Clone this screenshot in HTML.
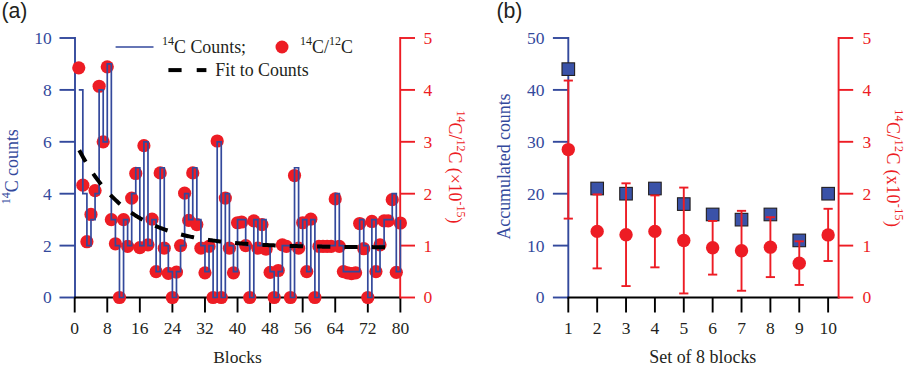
<!DOCTYPE html>
<html><head><meta charset="utf-8"><title>Figure</title>
<style>html,body{margin:0;padding:0;background:#fff}svg{display:block}</style></head>
<body><svg width="905" height="368" viewBox="0 0 905 368">
<rect width="905" height="368" fill="#fff"/>
<line x1="75.00" y1="37.05" x2="75.00" y2="298.45" stroke="#33499C" stroke-width="1.9" />
<line x1="59.50" y1="297.50" x2="75.00" y2="297.50" stroke="#33499C" stroke-width="1.9" />
<text x="51.80" y="303.40" fill="#33499C" font-size="17.5" font-family='"Liberation Serif", "Times New Roman", serif' text-anchor="end" >0</text>
<line x1="59.50" y1="245.60" x2="75.00" y2="245.60" stroke="#33499C" stroke-width="1.9" />
<text x="51.80" y="251.50" fill="#33499C" font-size="17.5" font-family='"Liberation Serif", "Times New Roman", serif' text-anchor="end" >2</text>
<line x1="59.50" y1="193.70" x2="75.00" y2="193.70" stroke="#33499C" stroke-width="1.9" />
<text x="51.80" y="199.60" fill="#33499C" font-size="17.5" font-family='"Liberation Serif", "Times New Roman", serif' text-anchor="end" >4</text>
<line x1="59.50" y1="141.80" x2="75.00" y2="141.80" stroke="#33499C" stroke-width="1.9" />
<text x="51.80" y="147.70" fill="#33499C" font-size="17.5" font-family='"Liberation Serif", "Times New Roman", serif' text-anchor="end" >6</text>
<line x1="59.50" y1="89.90" x2="75.00" y2="89.90" stroke="#33499C" stroke-width="1.9" />
<text x="51.80" y="95.80" fill="#33499C" font-size="17.5" font-family='"Liberation Serif", "Times New Roman", serif' text-anchor="end" >8</text>
<line x1="59.50" y1="38.00" x2="75.00" y2="38.00" stroke="#33499C" stroke-width="1.9" />
<text x="51.80" y="43.90" fill="#33499C" font-size="17.5" font-family='"Liberation Serif", "Times New Roman", serif' text-anchor="end" >10</text>
<line x1="74.20" y1="297.50" x2="401.00" y2="297.50" stroke="#000" stroke-width="1.9" />
<line x1="74.70" y1="297.50" x2="74.70" y2="312.50" stroke="#000" stroke-width="1.9" />
<text x="74.70" y="334.30" fill="#231F20" font-size="17.5" font-family='"Liberation Serif", "Times New Roman", serif' text-anchor="middle" >0</text>
<line x1="107.27" y1="297.50" x2="107.27" y2="312.50" stroke="#000" stroke-width="1.9" />
<text x="107.27" y="334.30" fill="#231F20" font-size="17.5" font-family='"Liberation Serif", "Times New Roman", serif' text-anchor="middle" >8</text>
<line x1="139.84" y1="297.50" x2="139.84" y2="312.50" stroke="#000" stroke-width="1.9" />
<text x="139.84" y="334.30" fill="#231F20" font-size="17.5" font-family='"Liberation Serif", "Times New Roman", serif' text-anchor="middle" >16</text>
<line x1="172.40" y1="297.50" x2="172.40" y2="312.50" stroke="#000" stroke-width="1.9" />
<text x="172.40" y="334.30" fill="#231F20" font-size="17.5" font-family='"Liberation Serif", "Times New Roman", serif' text-anchor="middle" >24</text>
<line x1="204.97" y1="297.50" x2="204.97" y2="312.50" stroke="#000" stroke-width="1.9" />
<text x="204.97" y="334.30" fill="#231F20" font-size="17.5" font-family='"Liberation Serif", "Times New Roman", serif' text-anchor="middle" >32</text>
<line x1="237.54" y1="297.50" x2="237.54" y2="312.50" stroke="#000" stroke-width="1.9" />
<text x="237.54" y="334.30" fill="#231F20" font-size="17.5" font-family='"Liberation Serif", "Times New Roman", serif' text-anchor="middle" >40</text>
<line x1="270.11" y1="297.50" x2="270.11" y2="312.50" stroke="#000" stroke-width="1.9" />
<text x="270.11" y="334.30" fill="#231F20" font-size="17.5" font-family='"Liberation Serif", "Times New Roman", serif' text-anchor="middle" >48</text>
<line x1="302.68" y1="297.50" x2="302.68" y2="312.50" stroke="#000" stroke-width="1.9" />
<text x="302.68" y="334.30" fill="#231F20" font-size="17.5" font-family='"Liberation Serif", "Times New Roman", serif' text-anchor="middle" >56</text>
<line x1="335.24" y1="297.50" x2="335.24" y2="312.50" stroke="#000" stroke-width="1.9" />
<text x="335.24" y="334.30" fill="#231F20" font-size="17.5" font-family='"Liberation Serif", "Times New Roman", serif' text-anchor="middle" >64</text>
<line x1="367.81" y1="297.50" x2="367.81" y2="312.50" stroke="#000" stroke-width="1.9" />
<text x="367.81" y="334.30" fill="#231F20" font-size="17.5" font-family='"Liberation Serif", "Times New Roman", serif' text-anchor="middle" >72</text>
<line x1="400.38" y1="297.50" x2="400.38" y2="312.50" stroke="#000" stroke-width="1.9" />
<text x="400.38" y="334.30" fill="#231F20" font-size="17.5" font-family='"Liberation Serif", "Times New Roman", serif' text-anchor="middle" >80</text>
<line x1="400.20" y1="37.05" x2="400.20" y2="298.45" stroke="#ED1C24" stroke-width="1.9" />
<line x1="400.20" y1="297.50" x2="415.00" y2="297.50" stroke="#ED1C24" stroke-width="1.9" />
<text x="423.50" y="303.40" fill="#ED1C24" font-size="17.5" font-family='"Liberation Serif", "Times New Roman", serif' text-anchor="start" >0</text>
<line x1="400.20" y1="245.60" x2="415.00" y2="245.60" stroke="#ED1C24" stroke-width="1.9" />
<text x="423.50" y="251.50" fill="#ED1C24" font-size="17.5" font-family='"Liberation Serif", "Times New Roman", serif' text-anchor="start" >1</text>
<line x1="400.20" y1="193.70" x2="415.00" y2="193.70" stroke="#ED1C24" stroke-width="1.9" />
<text x="423.50" y="199.60" fill="#ED1C24" font-size="17.5" font-family='"Liberation Serif", "Times New Roman", serif' text-anchor="start" >2</text>
<line x1="400.20" y1="141.80" x2="415.00" y2="141.80" stroke="#ED1C24" stroke-width="1.9" />
<text x="423.50" y="147.70" fill="#ED1C24" font-size="17.5" font-family='"Liberation Serif", "Times New Roman", serif' text-anchor="start" >3</text>
<line x1="400.20" y1="89.90" x2="415.00" y2="89.90" stroke="#ED1C24" stroke-width="1.9" />
<text x="423.50" y="95.80" fill="#ED1C24" font-size="17.5" font-family='"Liberation Serif", "Times New Roman", serif' text-anchor="start" >4</text>
<line x1="400.20" y1="38.00" x2="415.00" y2="38.00" stroke="#ED1C24" stroke-width="1.9" />
<text x="423.50" y="43.90" fill="#ED1C24" font-size="17.5" font-family='"Liberation Serif", "Times New Roman", serif' text-anchor="start" >5</text>
<circle cx="78.77" cy="67.84" r="6.6" fill="#ED1C24"/>
<circle cx="82.84" cy="185.14" r="6.6" fill="#ED1C24"/>
<circle cx="86.91" cy="241.71" r="6.6" fill="#ED1C24"/>
<circle cx="90.98" cy="214.46" r="6.6" fill="#ED1C24"/>
<circle cx="95.06" cy="190.59" r="6.6" fill="#ED1C24"/>
<circle cx="99.13" cy="86.27" r="6.6" fill="#ED1C24"/>
<circle cx="103.20" cy="141.80" r="6.6" fill="#ED1C24"/>
<circle cx="107.27" cy="66.80" r="6.6" fill="#ED1C24"/>
<circle cx="111.34" cy="219.65" r="6.6" fill="#ED1C24"/>
<circle cx="115.41" cy="243.78" r="6.6" fill="#ED1C24"/>
<circle cx="119.48" cy="297.50" r="6.6" fill="#ED1C24"/>
<circle cx="123.55" cy="219.65" r="6.6" fill="#ED1C24"/>
<circle cx="127.62" cy="246.38" r="6.6" fill="#ED1C24"/>
<circle cx="131.69" cy="198.11" r="6.6" fill="#ED1C24"/>
<circle cx="135.76" cy="173.46" r="6.6" fill="#ED1C24"/>
<circle cx="139.84" cy="247.68" r="6.6" fill="#ED1C24"/>
<circle cx="143.91" cy="145.69" r="6.6" fill="#ED1C24"/>
<circle cx="147.98" cy="244.82" r="6.6" fill="#ED1C24"/>
<circle cx="152.05" cy="219.13" r="6.6" fill="#ED1C24"/>
<circle cx="156.12" cy="271.55" r="6.6" fill="#ED1C24"/>
<circle cx="160.19" cy="172.94" r="6.6" fill="#ED1C24"/>
<circle cx="164.26" cy="248.19" r="6.6" fill="#ED1C24"/>
<circle cx="168.33" cy="273.37" r="6.6" fill="#ED1C24"/>
<circle cx="172.40" cy="297.50" r="6.6" fill="#ED1C24"/>
<circle cx="176.47" cy="272.07" r="6.6" fill="#ED1C24"/>
<circle cx="180.55" cy="245.60" r="6.6" fill="#ED1C24"/>
<circle cx="184.62" cy="193.18" r="6.6" fill="#ED1C24"/>
<circle cx="188.69" cy="220.43" r="6.6" fill="#ED1C24"/>
<circle cx="192.76" cy="172.94" r="6.6" fill="#ED1C24"/>
<circle cx="196.83" cy="224.58" r="6.6" fill="#ED1C24"/>
<circle cx="200.90" cy="248.19" r="6.6" fill="#ED1C24"/>
<circle cx="204.97" cy="272.85" r="6.6" fill="#ED1C24"/>
<circle cx="209.04" cy="246.38" r="6.6" fill="#ED1C24"/>
<circle cx="213.11" cy="297.50" r="6.6" fill="#ED1C24"/>
<circle cx="217.19" cy="141.02" r="6.6" fill="#ED1C24"/>
<circle cx="221.26" cy="297.50" r="6.6" fill="#ED1C24"/>
<circle cx="225.33" cy="198.11" r="6.6" fill="#ED1C24"/>
<circle cx="229.40" cy="248.19" r="6.6" fill="#ED1C24"/>
<circle cx="233.47" cy="272.85" r="6.6" fill="#ED1C24"/>
<circle cx="237.54" cy="222.76" r="6.6" fill="#ED1C24"/>
<circle cx="241.61" cy="221.99" r="6.6" fill="#ED1C24"/>
<circle cx="245.68" cy="245.60" r="6.6" fill="#ED1C24"/>
<circle cx="249.75" cy="297.50" r="6.6" fill="#ED1C24"/>
<circle cx="253.82" cy="220.95" r="6.6" fill="#ED1C24"/>
<circle cx="257.89" cy="248.19" r="6.6" fill="#ED1C24"/>
<circle cx="261.97" cy="224.58" r="6.6" fill="#ED1C24"/>
<circle cx="266.04" cy="249.23" r="6.6" fill="#ED1C24"/>
<circle cx="270.11" cy="272.33" r="6.6" fill="#ED1C24"/>
<circle cx="274.18" cy="297.50" r="6.6" fill="#ED1C24"/>
<circle cx="278.25" cy="270.51" r="6.6" fill="#ED1C24"/>
<circle cx="282.32" cy="244.82" r="6.6" fill="#ED1C24"/>
<circle cx="286.39" cy="246.38" r="6.6" fill="#ED1C24"/>
<circle cx="290.46" cy="297.50" r="6.6" fill="#ED1C24"/>
<circle cx="294.53" cy="175.53" r="6.6" fill="#ED1C24"/>
<circle cx="298.60" cy="248.19" r="6.6" fill="#ED1C24"/>
<circle cx="302.68" cy="222.76" r="6.6" fill="#ED1C24"/>
<circle cx="306.75" cy="271.55" r="6.6" fill="#ED1C24"/>
<circle cx="310.82" cy="219.13" r="6.6" fill="#ED1C24"/>
<circle cx="314.89" cy="297.50" r="6.6" fill="#ED1C24"/>
<circle cx="318.96" cy="246.38" r="6.6" fill="#ED1C24"/>
<circle cx="323.03" cy="246.38" r="6.6" fill="#ED1C24"/>
<circle cx="327.10" cy="246.38" r="6.6" fill="#ED1C24"/>
<circle cx="331.17" cy="246.38" r="6.6" fill="#ED1C24"/>
<circle cx="335.24" cy="198.89" r="6.6" fill="#ED1C24"/>
<circle cx="339.31" cy="246.38" r="6.6" fill="#ED1C24"/>
<circle cx="343.39" cy="271.55" r="6.6" fill="#ED1C24"/>
<circle cx="347.46" cy="272.85" r="6.6" fill="#ED1C24"/>
<circle cx="351.53" cy="273.63" r="6.6" fill="#ED1C24"/>
<circle cx="355.60" cy="272.85" r="6.6" fill="#ED1C24"/>
<circle cx="359.67" cy="223.54" r="6.6" fill="#ED1C24"/>
<circle cx="363.74" cy="248.71" r="6.6" fill="#ED1C24"/>
<circle cx="367.81" cy="297.50" r="6.6" fill="#ED1C24"/>
<circle cx="371.88" cy="221.47" r="6.6" fill="#ED1C24"/>
<circle cx="375.95" cy="271.55" r="6.6" fill="#ED1C24"/>
<circle cx="380.02" cy="244.82" r="6.6" fill="#ED1C24"/>
<circle cx="384.10" cy="220.95" r="6.6" fill="#ED1C24"/>
<circle cx="388.17" cy="220.95" r="6.6" fill="#ED1C24"/>
<circle cx="392.24" cy="199.67" r="6.6" fill="#ED1C24"/>
<circle cx="396.31" cy="272.33" r="6.6" fill="#ED1C24"/>
<circle cx="400.38" cy="223.02" r="6.6" fill="#ED1C24"/>
<path d="M78.77,89.90 L82.84,89.90 L82.84,193.70 L86.91,193.70 L86.91,245.60 L90.98,245.60 L90.98,219.65 L95.06,219.65 L95.06,193.70 L99.13,193.70 L99.13,89.90 L103.20,89.90 L103.20,141.80 L107.27,141.80 L107.27,63.95 L111.34,63.95 L111.34,219.65 L115.41,219.65 L115.41,245.60 L119.48,245.60 L119.48,297.50 L123.55,297.50 L123.55,219.65 L127.62,219.65 L127.62,245.60 L131.69,245.60 L131.69,193.70 L135.76,193.70 L135.76,167.75 L139.84,167.75 L139.84,245.60 L143.91,245.60 L143.91,141.80 L147.98,141.80 L147.98,245.60 L152.05,245.60 L152.05,219.65 L156.12,219.65 L156.12,271.55 L160.19,271.55 L160.19,167.75 L164.26,167.75 L164.26,245.60 L168.33,245.60 L168.33,271.55 L172.40,271.55 L172.40,297.50 L176.47,297.50 L176.47,271.55 L180.55,271.55 L180.55,245.60 L184.62,245.60 L184.62,193.70 L188.69,193.70 L188.69,219.65 L192.76,219.65 L192.76,167.75 L196.83,167.75 L196.83,219.65 L200.90,219.65 L200.90,245.60 L204.97,245.60 L204.97,271.55 L209.04,271.55 L209.04,245.60 L213.11,245.60 L213.11,297.50 L217.19,297.50 L217.19,141.80 L221.26,141.80 L221.26,297.50 L225.33,297.50 L225.33,193.70 L229.40,193.70 L229.40,245.60 L233.47,245.60 L233.47,271.55 L237.54,271.55 L237.54,219.65 L241.61,219.65 L241.61,219.65 L245.68,219.65 L245.68,245.60 L249.75,245.60 L249.75,297.50 L253.82,297.50 L253.82,219.65 L257.89,219.65 L257.89,245.60 L261.97,245.60 L261.97,219.65 L266.04,219.65 L266.04,245.60 L270.11,245.60 L270.11,271.55 L274.18,271.55 L274.18,297.50 L278.25,297.50 L278.25,271.55 L282.32,271.55 L282.32,245.60 L286.39,245.60 L286.39,245.60 L290.46,245.60 L290.46,297.50 L294.53,297.50 L294.53,167.75 L298.60,167.75 L298.60,245.60 L302.68,245.60 L302.68,219.65 L306.75,219.65 L306.75,271.55 L310.82,271.55 L310.82,219.65 L314.89,219.65 L314.89,297.50 L318.96,297.50 L318.96,245.60 L323.03,245.60 L323.03,245.60 L327.10,245.60 L327.10,245.60 L331.17,245.60 L331.17,245.60 L335.24,245.60 L335.24,193.70 L339.31,193.70 L339.31,245.60 L343.39,245.60 L343.39,271.55 L347.46,271.55 L347.46,271.55 L351.53,271.55 L351.53,271.55 L355.60,271.55 L355.60,271.55 L359.67,271.55 L359.67,219.65 L363.74,219.65 L363.74,245.60 L367.81,245.60 L367.81,297.50 L371.88,297.50 L371.88,219.65 L375.95,219.65 L375.95,271.55 L380.02,271.55 L380.02,245.60 L384.10,245.60 L384.10,219.65 L388.17,219.65 L388.17,219.65 L392.24,219.65 L392.24,193.70 L396.31,193.70 L396.31,271.55 L400.38,271.55 L400.38,219.65 L400.38,219.65" fill="none" stroke="#33499C" stroke-width="1.7" stroke-linejoin="miter"/>
<path d="M79.26,150.21 L80.28,152.15 L81.30,154.05 L82.31,155.92 L83.33,157.74 L84.35,159.53 L85.37,161.29 L86.38,163.00 L87.40,164.69 L88.42,166.34 L89.44,167.96 L90.45,169.54 L91.47,171.10 L92.49,172.62 L93.51,174.12 L94.53,175.58 L95.54,177.01 L96.56,178.42 L97.58,179.79 L98.60,181.14 L99.61,182.47 L100.63,183.76 L101.65,185.03 L102.67,186.28 L103.69,187.50 L104.70,188.70 L105.72,189.87 L106.74,191.02 L107.76,192.14 L108.77,193.24 L109.79,194.33 L110.81,195.39 L111.83,196.42 L112.85,197.44 L113.86,198.44 L114.88,199.42 L115.90,200.38 L116.92,201.31 L117.93,202.23 L118.95,203.14 L119.97,204.02 L120.99,204.89 L122.01,205.73 L123.02,206.57 L124.04,207.38 L125.06,208.18 L126.08,208.96 L127.09,209.73 L128.11,210.48 L129.13,211.22 L130.15,211.94 L131.16,212.65 L132.18,213.35 L133.20,214.03 L134.22,214.69 L135.24,215.35 L136.25,215.99 L137.27,216.61 L138.29,217.23 L139.31,217.83 L140.32,218.42 L141.34,219.00 L142.36,219.57 L143.38,220.12 L144.40,220.67 L145.41,221.20 L146.43,221.72 L147.45,222.24 L148.47,222.74 L149.48,223.23 L150.50,223.71 L151.52,224.19 L152.54,224.65 L153.56,225.11 L154.57,225.55 L155.59,225.99 L156.61,226.42 L157.63,226.83 L158.64,227.25 L159.66,227.65 L160.68,228.04 L161.70,228.43 L162.72,228.81 L163.73,229.18 L164.75,229.54 L165.77,229.90 L166.79,230.25 L167.80,230.59 L168.82,230.93 L169.84,231.26 L170.86,231.58 L171.87,231.90 L172.89,232.21 L173.91,232.51 L174.93,232.81 L175.95,233.10 L176.96,233.38 L177.98,233.66 L179.00,233.94 L180.02,234.21 L181.03,234.47 L182.05,234.73 L183.07,234.98 L184.09,235.23 L185.11,235.47 L186.12,235.71 L187.14,235.95 L188.16,236.18 L189.18,236.40 L190.19,236.62 L191.21,236.84 L192.23,237.05 L193.25,237.25 L194.27,237.46 L195.28,237.65 L196.30,237.85 L197.32,238.04 L198.34,238.23 L199.35,238.41 L200.37,238.59 L201.39,238.77 L202.41,238.94 L203.43,239.11 L204.44,239.27 L205.46,239.44 L206.48,239.60 L207.50,239.75 L208.51,239.91 L209.53,240.06 L210.55,240.20 L211.57,240.35 L212.58,240.49 L213.60,240.63 L214.62,240.76 L215.64,240.89 L216.66,241.02 L217.67,241.15 L218.69,241.28 L219.71,241.40 L220.73,241.52 L221.74,241.64 L222.76,241.75 L223.78,241.87 L224.80,241.98 L225.82,242.09 L226.83,242.19 L227.85,242.30 L228.87,242.40 L229.89,242.50 L230.90,242.60 L231.92,242.69 L232.94,242.79 L233.96,242.88 L234.98,242.97 L235.99,243.06 L237.01,243.15 L238.03,243.23 L239.05,243.31 L240.06,243.40 L241.08,243.48 L242.10,243.56 L243.12,243.63 L244.14,243.71 L245.15,243.78 L246.17,243.85 L247.19,243.93 L248.21,244.00 L249.22,244.06 L250.24,244.13 L251.26,244.20 L252.28,244.26 L253.29,244.32 L254.31,244.38 L255.33,244.45 L256.35,244.50 L257.37,244.56 L258.38,244.62 L259.40,244.68 L260.42,244.73 L261.44,244.78 L262.45,244.84 L263.47,244.89 L264.49,244.94 L265.51,244.99 L266.53,245.04 L267.54,245.08 L268.56,245.13 L269.58,245.18 L270.60,245.22 L271.61,245.26 L272.63,245.31 L273.65,245.35 L274.67,245.39 L275.69,245.43 L276.70,245.47 L277.72,245.51 L278.74,245.55 L279.76,245.59 L280.77,245.62 L281.79,245.66 L282.81,245.69 L283.83,245.73 L284.85,245.76 L285.86,245.79 L286.88,245.83 L287.90,245.86 L288.92,245.89 L289.93,245.92 L290.95,245.95 L291.97,245.98 L292.99,246.01 L294.00,246.04 L295.02,246.06 L296.04,246.09 L297.06,246.12 L298.08,246.14 L299.09,246.17 L300.11,246.19 L301.13,246.22 L302.15,246.24 L303.16,246.26 L304.18,246.29 L305.20,246.31 L306.22,246.33 L307.24,246.35 L308.25,246.38 L309.27,246.40 L310.29,246.42 L311.31,246.44 L312.32,246.46 L313.34,246.47 L314.36,246.49 L315.38,246.51 L316.40,246.53 L317.41,246.55 L318.43,246.57 L319.45,246.58 L320.47,246.60 L321.48,246.62 L322.50,246.63 L323.52,246.65 L324.54,246.66 L325.56,246.68 L326.57,246.69 L327.59,246.71 L328.61,246.72 L329.63,246.73 L330.64,246.75 L331.66,246.76 L332.68,246.77 L333.70,246.79 L334.71,246.80 L335.73,246.81 L336.75,246.82 L337.77,246.84 L338.79,246.85 L339.80,246.86 L340.82,246.87 L341.84,246.88 L342.86,246.89 L343.87,246.90 L344.89,246.91 L345.91,246.92 L346.93,246.93 L347.95,246.94 L348.96,246.95 L349.98,246.96 L351.00,246.97 L352.02,246.98 L353.03,246.99 L354.05,247.00 L355.07,247.00 L356.09,247.01 L357.11,247.02 L358.12,247.03 L359.14,247.04 L360.16,247.04 L361.18,247.05 L362.19,247.06 L363.21,247.07 L364.23,247.07 L365.25,247.08 L366.27,247.09 L367.28,247.09 L368.30,247.10 L369.32,247.11 L370.34,247.11 L371.35,247.12 L372.37,247.12 L373.39,247.13 L374.41,247.14 L375.42,247.14 L376.44,247.15 L377.46,247.15 L378.48,247.16 L379.50,247.16 L380.51,247.17 L381.53,247.17 L382.55,247.18 L383.57,247.18 L384.58,247.19 L385.60,247.19 L386.62,247.20 L387.64,247.20" fill="none" stroke="#000" stroke-width="4" stroke-dasharray="13.3 14.06"/>
<line x1="115.60" y1="47.00" x2="153.50" y2="47.00" stroke="#33499C" stroke-width="1.7" />
<text x="162.00" y="52.80" fill="#231F20" font-size="17.9" font-family='"Liberation Serif", "Times New Roman", serif' text-anchor="start" ><tspan font-size="12" dy="-8.3">14</tspan><tspan dy="8.3">C Counts;</tspan></text>
<circle cx="282" cy="47" r="6.5" fill="#ED1C24"/>
<text x="300.00" y="52.80" fill="#231F20" font-size="17.9" font-family='"Liberation Serif", "Times New Roman", serif' text-anchor="start" ><tspan font-size="12" dy="-8.3">14</tspan><tspan dy="8.3">C/</tspan><tspan font-size="12" dy="-8.3">12</tspan><tspan dy="8.3">C</tspan></text>
<line x1="168.40" y1="70.10" x2="181.60" y2="70.10" stroke="#000" stroke-width="4" />
<line x1="196.70" y1="70.10" x2="206.40" y2="70.10" stroke="#000" stroke-width="4" />
<text x="215.30" y="75.60" fill="#231F20" font-size="17.9" font-family='"Liberation Serif", "Times New Roman", serif' text-anchor="start" >Fit to Counts</text>
<text x="1.40" y="18.20" fill="#231F20" font-size="21.3" font-family='"Liberation Sans", Arial, sans-serif' text-anchor="start" >(a)</text>
<text x="237.50" y="363.20" fill="#231F20" font-size="17.5" font-family='"Liberation Serif", "Times New Roman", serif' text-anchor="middle" >Blocks</text>
<g transform="translate(17.8,204.3) rotate(-90)">
<text x="0.00" y="0.00" fill="#33499C" font-size="17.9" font-family='"Liberation Serif", "Times New Roman", serif' text-anchor="start" ><tspan font-size="12" dy="-8.3">14</tspan><tspan dy="8.3">C counts</tspan></text>
</g>
<g transform="translate(449,110.6) rotate(90)">
<text x="0.00" y="0.00" fill="#ED1C24" font-size="17.8" font-family='"Liberation Serif", "Times New Roman", serif' text-anchor="start" ><tspan font-size="12" dy="-8.3">14</tspan><tspan dy="8.3">C/</tspan><tspan font-size="12" dy="-8.3">12</tspan><tspan dy="8.3">C (&#215;10</tspan><tspan font-size="12" dy="-8.3">-15</tspan><tspan dy="8.3">)</tspan></text>
</g>
<line x1="568.30" y1="37.05" x2="568.30" y2="298.45" stroke="#33499C" stroke-width="1.9" />
<line x1="552.90" y1="297.50" x2="568.30" y2="297.50" stroke="#33499C" stroke-width="1.9" />
<text x="544.60" y="303.40" fill="#33499C" font-size="17.5" font-family='"Liberation Serif", "Times New Roman", serif' text-anchor="end" >0</text>
<line x1="552.90" y1="245.60" x2="568.30" y2="245.60" stroke="#33499C" stroke-width="1.9" />
<text x="544.60" y="251.50" fill="#33499C" font-size="17.5" font-family='"Liberation Serif", "Times New Roman", serif' text-anchor="end" >10</text>
<line x1="552.90" y1="193.70" x2="568.30" y2="193.70" stroke="#33499C" stroke-width="1.9" />
<text x="544.60" y="199.60" fill="#33499C" font-size="17.5" font-family='"Liberation Serif", "Times New Roman", serif' text-anchor="end" >20</text>
<line x1="552.90" y1="141.80" x2="568.30" y2="141.80" stroke="#33499C" stroke-width="1.9" />
<text x="544.60" y="147.70" fill="#33499C" font-size="17.5" font-family='"Liberation Serif", "Times New Roman", serif' text-anchor="end" >30</text>
<line x1="552.90" y1="89.90" x2="568.30" y2="89.90" stroke="#33499C" stroke-width="1.9" />
<text x="544.60" y="95.80" fill="#33499C" font-size="17.5" font-family='"Liberation Serif", "Times New Roman", serif' text-anchor="end" >40</text>
<line x1="552.90" y1="38.00" x2="568.30" y2="38.00" stroke="#33499C" stroke-width="1.9" />
<text x="544.60" y="43.90" fill="#33499C" font-size="17.5" font-family='"Liberation Serif", "Times New Roman", serif' text-anchor="end" >50</text>
<line x1="567.50" y1="297.50" x2="839.40" y2="297.50" stroke="#000" stroke-width="1.9" />
<line x1="568.30" y1="297.50" x2="568.30" y2="312.50" stroke="#000" stroke-width="1.9" />
<text x="568.30" y="334.30" fill="#231F20" font-size="17.5" font-family='"Liberation Serif", "Times New Roman", serif' text-anchor="middle" >1</text>
<line x1="597.17" y1="297.50" x2="597.17" y2="312.50" stroke="#000" stroke-width="1.9" />
<text x="597.17" y="334.30" fill="#231F20" font-size="17.5" font-family='"Liberation Serif", "Times New Roman", serif' text-anchor="middle" >2</text>
<line x1="626.04" y1="297.50" x2="626.04" y2="312.50" stroke="#000" stroke-width="1.9" />
<text x="626.04" y="334.30" fill="#231F20" font-size="17.5" font-family='"Liberation Serif", "Times New Roman", serif' text-anchor="middle" >3</text>
<line x1="654.91" y1="297.50" x2="654.91" y2="312.50" stroke="#000" stroke-width="1.9" />
<text x="654.91" y="334.30" fill="#231F20" font-size="17.5" font-family='"Liberation Serif", "Times New Roman", serif' text-anchor="middle" >4</text>
<line x1="683.78" y1="297.50" x2="683.78" y2="312.50" stroke="#000" stroke-width="1.9" />
<text x="683.78" y="334.30" fill="#231F20" font-size="17.5" font-family='"Liberation Serif", "Times New Roman", serif' text-anchor="middle" >5</text>
<line x1="712.65" y1="297.50" x2="712.65" y2="312.50" stroke="#000" stroke-width="1.9" />
<text x="712.65" y="334.30" fill="#231F20" font-size="17.5" font-family='"Liberation Serif", "Times New Roman", serif' text-anchor="middle" >6</text>
<line x1="741.52" y1="297.50" x2="741.52" y2="312.50" stroke="#000" stroke-width="1.9" />
<text x="741.52" y="334.30" fill="#231F20" font-size="17.5" font-family='"Liberation Serif", "Times New Roman", serif' text-anchor="middle" >7</text>
<line x1="770.39" y1="297.50" x2="770.39" y2="312.50" stroke="#000" stroke-width="1.9" />
<text x="770.39" y="334.30" fill="#231F20" font-size="17.5" font-family='"Liberation Serif", "Times New Roman", serif' text-anchor="middle" >8</text>
<line x1="799.26" y1="297.50" x2="799.26" y2="312.50" stroke="#000" stroke-width="1.9" />
<text x="799.26" y="334.30" fill="#231F20" font-size="17.5" font-family='"Liberation Serif", "Times New Roman", serif' text-anchor="middle" >9</text>
<line x1="828.13" y1="297.50" x2="828.13" y2="312.50" stroke="#000" stroke-width="1.9" />
<text x="828.13" y="334.30" fill="#231F20" font-size="17.5" font-family='"Liberation Serif", "Times New Roman", serif' text-anchor="middle" >10</text>
<line x1="838.60" y1="37.05" x2="838.60" y2="298.45" stroke="#ED1C24" stroke-width="1.9" />
<line x1="838.60" y1="297.50" x2="853.20" y2="297.50" stroke="#ED1C24" stroke-width="1.9" />
<text x="862.60" y="303.40" fill="#ED1C24" font-size="17.5" font-family='"Liberation Serif", "Times New Roman", serif' text-anchor="start" >0</text>
<line x1="838.60" y1="245.60" x2="853.20" y2="245.60" stroke="#ED1C24" stroke-width="1.9" />
<text x="862.60" y="251.50" fill="#ED1C24" font-size="17.5" font-family='"Liberation Serif", "Times New Roman", serif' text-anchor="start" >1</text>
<line x1="838.60" y1="193.70" x2="853.20" y2="193.70" stroke="#ED1C24" stroke-width="1.9" />
<text x="862.60" y="199.60" fill="#ED1C24" font-size="17.5" font-family='"Liberation Serif", "Times New Roman", serif' text-anchor="start" >2</text>
<line x1="838.60" y1="141.80" x2="853.20" y2="141.80" stroke="#ED1C24" stroke-width="1.9" />
<text x="862.60" y="147.70" fill="#ED1C24" font-size="17.5" font-family='"Liberation Serif", "Times New Roman", serif' text-anchor="start" >3</text>
<line x1="838.60" y1="89.90" x2="853.20" y2="89.90" stroke="#ED1C24" stroke-width="1.9" />
<text x="862.60" y="95.80" fill="#ED1C24" font-size="17.5" font-family='"Liberation Serif", "Times New Roman", serif' text-anchor="start" >4</text>
<line x1="838.60" y1="38.00" x2="853.20" y2="38.00" stroke="#ED1C24" stroke-width="1.9" />
<text x="862.60" y="43.90" fill="#ED1C24" font-size="17.5" font-family='"Liberation Serif", "Times New Roman", serif' text-anchor="start" >5</text>
<rect x="562.00" y="62.84" width="12.6" height="12.6" fill="#3A52A8" stroke="#231F20" stroke-width="1.1"/>
<rect x="590.87" y="182.21" width="12.6" height="12.6" fill="#3A52A8" stroke="#231F20" stroke-width="1.1"/>
<rect x="619.74" y="187.40" width="12.6" height="12.6" fill="#3A52A8" stroke="#231F20" stroke-width="1.1"/>
<rect x="648.61" y="182.21" width="12.6" height="12.6" fill="#3A52A8" stroke="#231F20" stroke-width="1.1"/>
<rect x="677.48" y="197.78" width="12.6" height="12.6" fill="#3A52A8" stroke="#231F20" stroke-width="1.1"/>
<rect x="706.35" y="208.16" width="12.6" height="12.6" fill="#3A52A8" stroke="#231F20" stroke-width="1.1"/>
<rect x="735.22" y="213.35" width="12.6" height="12.6" fill="#3A52A8" stroke="#231F20" stroke-width="1.1"/>
<rect x="764.09" y="208.16" width="12.6" height="12.6" fill="#3A52A8" stroke="#231F20" stroke-width="1.1"/>
<rect x="792.96" y="234.11" width="12.6" height="12.6" fill="#3A52A8" stroke="#231F20" stroke-width="1.1"/>
<rect x="821.83" y="187.40" width="12.6" height="12.6" fill="#3A52A8" stroke="#231F20" stroke-width="1.1"/>
<line x1="568.30" y1="80.56" x2="568.30" y2="218.61" stroke="#ED1C24" stroke-width="1.9" />
<line x1="563.70" y1="80.56" x2="572.90" y2="80.56" stroke="#ED1C24" stroke-width="1.9" />
<line x1="563.70" y1="218.61" x2="572.90" y2="218.61" stroke="#ED1C24" stroke-width="1.9" />
<circle cx="568.30" cy="149.59" r="6.7" fill="#ED1C24"/>
<line x1="597.17" y1="194.37" x2="597.17" y2="268.38" stroke="#ED1C24" stroke-width="1.9" />
<line x1="592.57" y1="194.37" x2="601.77" y2="194.37" stroke="#ED1C24" stroke-width="1.9" />
<line x1="592.57" y1="268.38" x2="601.77" y2="268.38" stroke="#ED1C24" stroke-width="1.9" />
<circle cx="597.17" cy="231.38" r="6.7" fill="#ED1C24"/>
<line x1="626.04" y1="183.32" x2="626.04" y2="286.08" stroke="#ED1C24" stroke-width="1.9" />
<line x1="621.44" y1="183.32" x2="630.64" y2="183.32" stroke="#ED1C24" stroke-width="1.9" />
<line x1="621.44" y1="286.08" x2="630.64" y2="286.08" stroke="#ED1C24" stroke-width="1.9" />
<circle cx="626.04" cy="234.70" r="6.7" fill="#ED1C24"/>
<line x1="654.91" y1="195.41" x2="654.91" y2="267.35" stroke="#ED1C24" stroke-width="1.9" />
<line x1="650.31" y1="195.41" x2="659.51" y2="195.41" stroke="#ED1C24" stroke-width="1.9" />
<line x1="650.31" y1="267.35" x2="659.51" y2="267.35" stroke="#ED1C24" stroke-width="1.9" />
<circle cx="654.91" cy="231.38" r="6.7" fill="#ED1C24"/>
<line x1="683.78" y1="187.58" x2="683.78" y2="293.45" stroke="#ED1C24" stroke-width="1.9" />
<line x1="679.18" y1="187.58" x2="688.38" y2="187.58" stroke="#ED1C24" stroke-width="1.9" />
<line x1="679.18" y1="293.45" x2="688.38" y2="293.45" stroke="#ED1C24" stroke-width="1.9" />
<circle cx="683.78" cy="240.51" r="6.7" fill="#ED1C24"/>
<line x1="712.65" y1="220.95" x2="712.65" y2="274.61" stroke="#ED1C24" stroke-width="1.9" />
<line x1="708.05" y1="220.95" x2="717.25" y2="220.95" stroke="#ED1C24" stroke-width="1.9" />
<line x1="708.05" y1="274.61" x2="717.25" y2="274.61" stroke="#ED1C24" stroke-width="1.9" />
<circle cx="712.65" cy="247.78" r="6.7" fill="#ED1C24"/>
<line x1="741.52" y1="210.83" x2="741.52" y2="290.75" stroke="#ED1C24" stroke-width="1.9" />
<line x1="736.92" y1="210.83" x2="746.12" y2="210.83" stroke="#ED1C24" stroke-width="1.9" />
<line x1="736.92" y1="290.75" x2="746.12" y2="290.75" stroke="#ED1C24" stroke-width="1.9" />
<circle cx="741.52" cy="250.79" r="6.7" fill="#ED1C24"/>
<line x1="770.39" y1="217.21" x2="770.39" y2="277.10" stroke="#ED1C24" stroke-width="1.9" />
<line x1="765.79" y1="217.21" x2="774.99" y2="217.21" stroke="#ED1C24" stroke-width="1.9" />
<line x1="765.79" y1="277.10" x2="774.99" y2="277.10" stroke="#ED1C24" stroke-width="1.9" />
<circle cx="770.39" cy="247.16" r="6.7" fill="#ED1C24"/>
<line x1="799.26" y1="241.34" x2="799.26" y2="284.94" stroke="#ED1C24" stroke-width="1.9" />
<line x1="794.66" y1="241.34" x2="803.86" y2="241.34" stroke="#ED1C24" stroke-width="1.9" />
<line x1="794.66" y1="284.94" x2="803.86" y2="284.94" stroke="#ED1C24" stroke-width="1.9" />
<circle cx="799.26" cy="263.14" r="6.7" fill="#ED1C24"/>
<line x1="828.13" y1="208.80" x2="828.13" y2="261.01" stroke="#ED1C24" stroke-width="1.9" />
<line x1="823.53" y1="208.80" x2="832.73" y2="208.80" stroke="#ED1C24" stroke-width="1.9" />
<line x1="823.53" y1="261.01" x2="832.73" y2="261.01" stroke="#ED1C24" stroke-width="1.9" />
<circle cx="828.13" cy="234.91" r="6.7" fill="#ED1C24"/>
<text x="496.40" y="18.20" fill="#231F20" font-size="21.3" font-family='"Liberation Sans", Arial, sans-serif' text-anchor="start" >(b)</text>
<text x="702.80" y="363.20" fill="#231F20" font-size="17.95" font-family='"Liberation Serif", "Times New Roman", serif' text-anchor="middle" >Set of 8 blocks</text>
<g transform="translate(510,239.5) rotate(-90)">
<text x="0.00" y="0.00" fill="#33499C" font-size="17.83" font-family='"Liberation Serif", "Times New Roman", serif' text-anchor="start" >Accumulated counts</text>
</g>
<g transform="translate(886.8,109.2) rotate(90)">
<text x="0.00" y="0.00" fill="#ED1C24" font-size="17.8" font-family='"Liberation Serif", "Times New Roman", serif' text-anchor="start" letter-spacing="0.4"><tspan font-size="12" dy="-8.3">14</tspan><tspan dy="8.3">C/</tspan><tspan font-size="12" dy="-8.3">12</tspan><tspan dy="8.3">C (x10</tspan><tspan font-size="12" dy="-8.3">-15</tspan><tspan dy="8.3">)</tspan></text>
</g>
</svg></body></html>
